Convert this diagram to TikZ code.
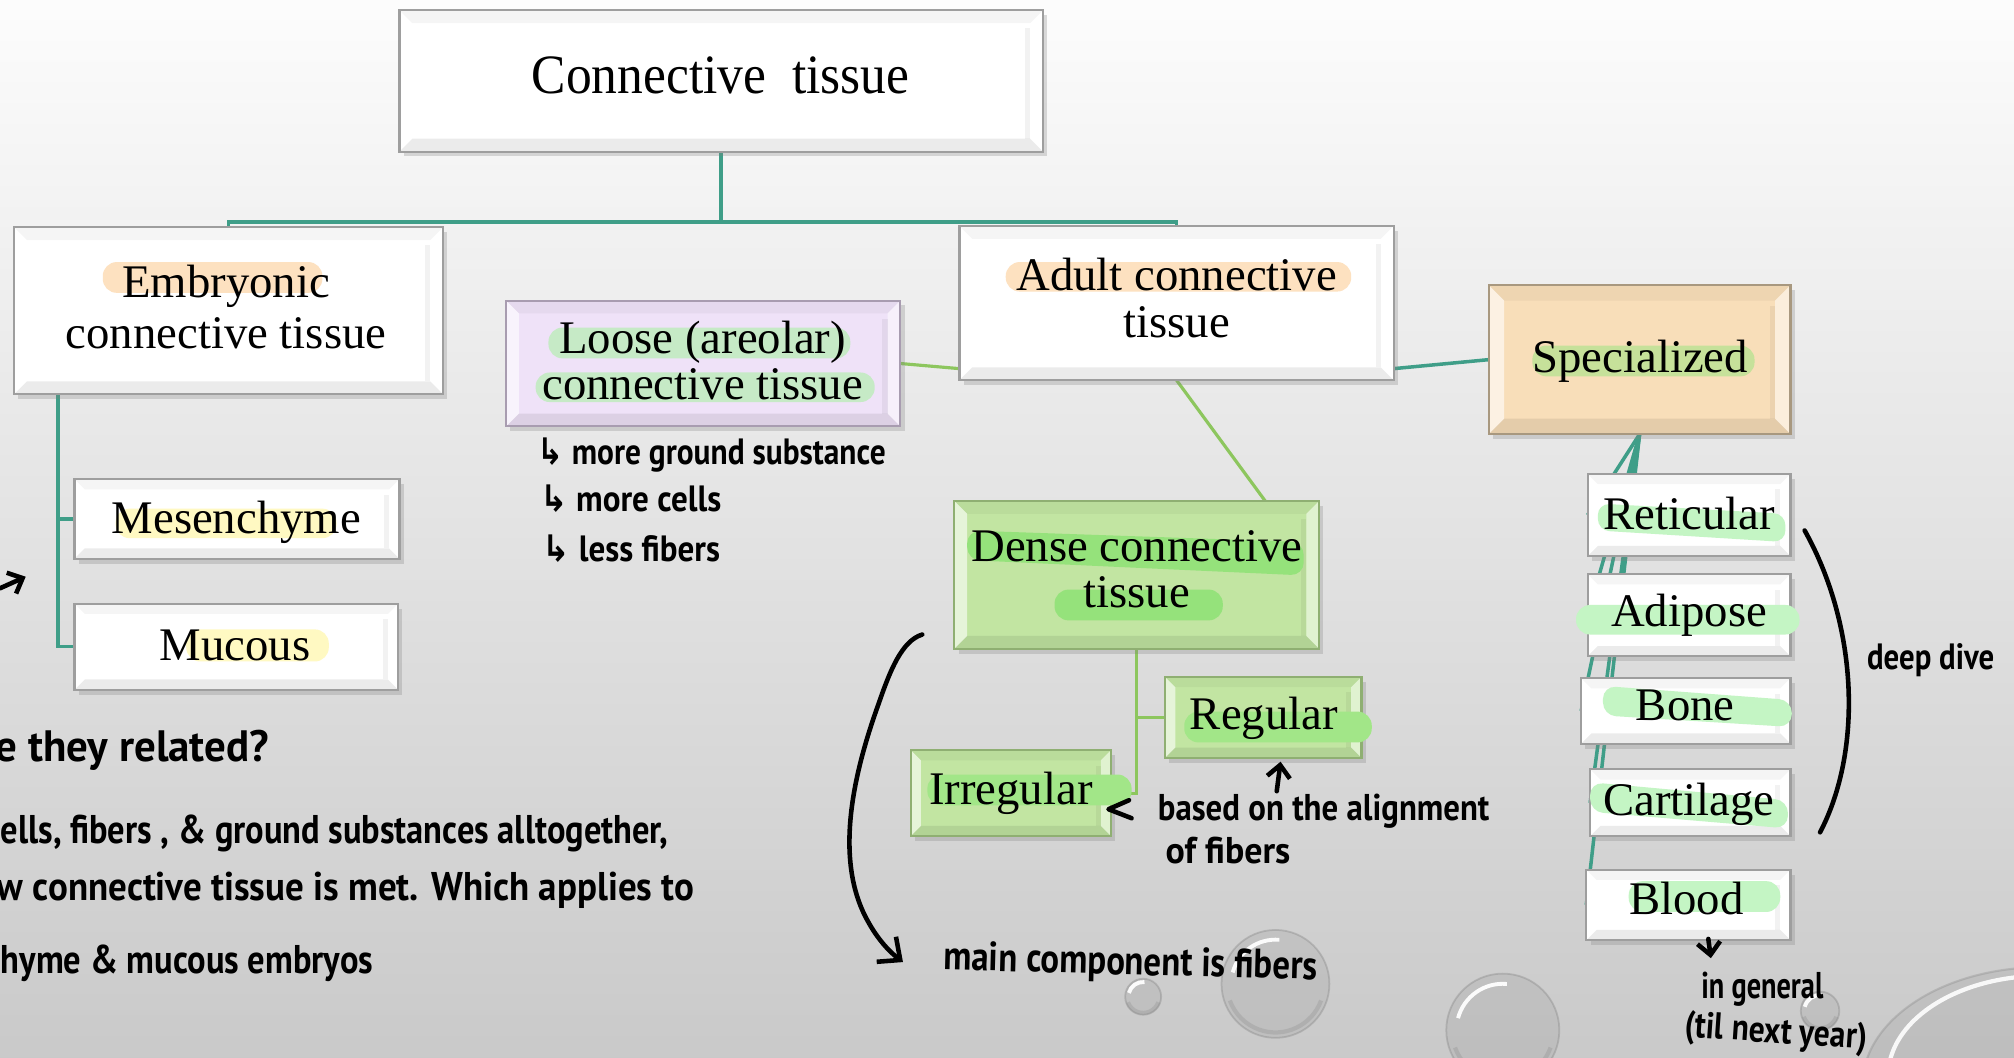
\documentclass[tikz,border=0pt]{standalone}
\usepackage{fontspec}
\setmainfont{Liberation Serif}
\newfontfamily\handfont{PT Sans}
\newfontfamily\symfont{DejaVu Sans}
\usepackage{graphicx}
\usetikzlibrary{fit,calc,shadows,arrows.meta}
\pgfdeclarelayer{back}
\pgfdeclarelayer{bg}
\pgfsetlayers{back,bg,main}
\newlength\pxu
\setlength\pxu{0.012844cm}
\newcommand\hwline[2]{\resizebox{#1\pxu}{\height}{\handfont\bfseries #2}}
\definecolor{tealcol}{HTML}{3F9E88}
\definecolor{greencol}{HTML}{8DC65E}
\definecolor{densefill}{HTML}{C2E5A2}
\definecolor{denseedge}{HTML}{8FAF72}
\definecolor{loosefill}{HTML}{EFE2F8}
\definecolor{looseedge}{HTML}{A89CB0}
\definecolor{specfill}{HTML}{F8DEB9}
\definecolor{specedge}{HTML}{A8987F}
\definecolor{peach}{HTML}{FDE1C0}
\definecolor{hlgreen}{HTML}{C6EAC6}
\definecolor{hlspec}{HTML}{C6E19A}
\definecolor{hldense}{HTML}{95E27B}
\definecolor{hlyellow}{HTML}{FFF9C2}
\definecolor{hlmint}{HTML}{C4F5C4}
\definecolor{hlreg}{HTML}{A2E688}
\tikzset{
  basebox/.style={rectangle, inner sep=0pt, outer sep=0pt, line width=0.6pt,
    drop shadow={opacity=0.28, shadow xshift=1.2pt, shadow yshift=-1.4pt}},
  bevel/.style={path picture={
    \coordinate (bvnw) at (path picture bounding box.north west);
    \coordinate (bvne) at (path picture bounding box.north east);
    \coordinate (bvsw) at (path picture bounding box.south west);
    \coordinate (bvse) at (path picture bounding box.south east);
    \fill[white,opacity=.6] (bvnw) -- ($(bvnw)+(#1,#1)$) -- ($(bvsw)+(#1,-#1)$) -- (bvsw) -- cycle;
    \fill[white,opacity=.5] (bvne) -- ($(bvne)+(-#1,#1)$) -- ($(bvse)+(-#1,-#1)$) -- (bvse) -- cycle;
    \fill[black,opacity=.05] ($(bvse)+(-#1-4,-#1)$) rectangle ($(bvne)+(-#1,#1+4)$);
    \fill[black,opacity=.04] (bvnw) -- (bvne) -- ($(bvne)+(-#1,#1)$) -- ($(bvnw)+(#1,#1)$) -- cycle;
    \fill[black,opacity=.08] (bvsw) -- (bvse) -- ($(bvse)+(-#1,-#1)$) -- ($(bvsw)+(#1,-#1)$) -- cycle;
  }},
  wbox/.style={basebox, fill=white, draw=black!38, bevel=#1}, wbox/.default=10,
  gbox/.style={basebox, fill=densefill, draw=denseedge, bevel=#1}, gbox/.default=10,
  lbox/.style={basebox, fill=loosefill, draw=looseedge, bevel=10},
  sbox/.style={basebox, fill=specfill, draw=specedge, bevel=12},
  lbl/.style={inner sep=0pt, align=center, font=\fontsize{13.3}{13.4}\selectfont},
  slbl/.style={inner sep=0pt, anchor=base, font=\fontsize{13.3}{13.4}\selectfont},
  hand/.style={inner sep=0pt, anchor=base west, font=\fontsize{#1}{#1}\selectfont}, hand/.default=11,
  hline/.style={line cap=round, line join=round, line width=1.3pt, black},
  tealline/.style={draw=tealcol, line width=1pt},
  greenline/.style={draw=greencol, line width=0.9pt},
  tipb/.style={-{Straight Barb[length=3.5pt,width=6.5pt]}}
}
\newcommand\pill[5]{\fill[#1, rounded corners=11\pxu] (#2,#3) rectangle (#4,#5);}
\newcommand\droplet[3]{%
  \fill[black, opacity=.06] (#1,#2) circle (#3);
  \draw[black!50, opacity=.35, line width=.5pt] (#1,#2) circle (#3);
  \draw[black!45, opacity=.3, line width=1.2pt] ($(#1,#2)+(20:0.9*#3)$) arc (20:160:0.9*#3);
  \draw[white, opacity=.95, line width=1.1pt] ($(#1,#2)+(195:0.82*#3)$) arc (195:275:0.82*#3);
}
\begin{document}
\begin{tikzpicture}[x=0.012844cm, y=-0.012844cm]
\useasboundingbox (0,0) rectangle (1568,823);
\begin{pgfonlayer}{back}
  \shade[top color=white!99!black, bottom color=black!21] (0,0) rectangle (1568,823);
  \begin{scope}
    \clip (0,0) rectangle (1568,823);
    \droplet{890}{776}{14}
    \droplet{993}{766}{42}
    \droplet{1170}{802}{44}
    \droplet{1417}{787}{15}
    \fill[black, opacity=.06] (1590,845) ellipse [x radius=140, y radius=92];
    \draw[black!50, opacity=.3, line width=.6pt] (1590,845) ellipse [x radius=140, y radius=92];
    \draw[white, opacity=.9, line width=1.2pt] ($(1590,845)+(190:120)$) arc [start angle=190, end angle=260, x radius=120, y radius=78];
  \end{scope}
\end{pgfonlayer}

% boxes
\node[wbox, fit={(311,8)(812,118)}] (ct) {};
\node[wbox, fit={(11,177)(345,307)}] (emb) {};
\node[lbox, fit={(394,234)(701,332)}] (loose) {};
\node[wbox, fit={(747,176)(1085,296)}] (adult) {};
\node[sbox, fit={(1159,222)(1394,338)}] (spec) {};
\node[wbox=8, fit={(58,373)(311,435)}] (mes) {};
\node[wbox=8, fit={(58,470)(310,537)}] (muc) {};
\node[gbox, fit={(743,390)(1027,505)}] (dense) {};
\node[gbox=8, fit={(907,527)(1060,590)}] (reg) {};
\node[gbox=8, fit={(709,584)(865,651)}] (irr) {};
\node[wbox=8, fit={(1236,369)(1394,433)}] (ret) {};
\node[wbox=8, fit={(1236,447)(1394,511)}] (adi) {};
\node[wbox=8, fit={(1231,528)(1394,579)}] (bone) {};
\node[wbox=8, fit={(1238,599)(1394,651)}] (cart) {};
\node[wbox=8, fit={(1235,677)(1394,732)}] (blood) {};

% connectors
\begin{pgfonlayer}{bg}
  \draw[tealline] (ct.south) -- ($(ct.south)+(0,55)$) coordinate (ctj) -| (emb.north);
  \draw[tealline] (ctj) -| (adult.north);
  \draw[tealline] ($(emb.south west)+(34,0)$) |- (mes.west);
  \draw[tealline] ($(emb.south west)+(34,0)$) |- (muc.west);
  \draw[greenline] (loose.east) -- ($(adult.south west)+(0,-9)$);
  \draw[greenline] (adult.south) -- ($(dense.north)+(100,0)$);
  \draw[tealline] ($(adult.south east)+(0,-9)$) -- (spec.west);
  \draw[greenline] (dense.south) |- (reg.west);
  \draw[greenline] (dense.south) |- (irr.east);
  \foreach \n in {ret,adi,bone,cart,blood} \draw[tealline] (spec.south) -- (\n.west);
\end{pgfonlayer}

% highlights
\pill{peach}{80}{204}{251}{228}
\pill{peach}{783}{204}{1052}{227}
\pill{hlgreen}{427}{255}{662}{279}
\pill{hlgreen}{417}{290}{681}{313}
\pill{hlspec}{1193}{269}{1366}{293}
\pill{hlyellow}{90}{396}{262}{419}
\pill{hlyellow}{145}{490}{256}{515}
\fill[hldense, rounded corners=10\pxu] (753,413) -- (1015,422) -- (1015,448) -- (753,436) -- cycle;
\pill{hldense}{821}{459}{952}{483}
\pill{hlreg}{922}{554}{1068}{578}
\pill{hlreg}{722}{603}{881}{627}
\fill[hlmint, rounded corners=9\pxu] (1244,392) -- (1390,400) -- (1390,422) -- (1244,413) -- cycle;
\pill{hlmint}{1227}{471}{1401}{494}
\fill[hlmint, rounded corners=10\pxu] (1248,534) -- (1395,545) -- (1395,566) -- (1248,557) -- cycle;
\fill[hlmint, rounded corners=10\pxu] (1238,609) -- (1392,623) -- (1392,645) -- (1238,632) -- cycle;
\pill{hlmint}{1268}{686}{1386}{710}

% box texts
\node[slbl] (ct-t) at (561,73) {\resizebox{294\pxu}{\height}{\fontsize{15.8}{17}\selectfont Connective\ \ tissue}};
\node[lbl, font=\fontsize{13.3}{14.3}\selectfont] (emb-t) at (176,239) {Embryonic\\connective tissue};
\node[lbl, font=\fontsize{13.3}{13.2}\selectfont] (loose-t) at (547,280.5) {Loose (areolar)\\connective tissue};
\node[lbl, font=\fontsize{13.3}{13.5}\selectfont] (adult-t) at (916,232) {Adult connective\\tissue};
\node[lbl, font=\fontsize{13.3}{13.2}\selectfont] (dense-t) at (885,443) {Dense connective\\tissue};
\node[slbl] (spec-t) at (1277,290) {Specialized};
\node[slbl] (mes-t) at (184,415) {Mesenchyme};
\node[slbl] (muc-t) at (183,514) {Mucous};
\node[slbl] (reg-t) at (984,568) {Regular};
\node[slbl] (irr-t) at (787,626) {Irregular};
\node[slbl] (ret-t) at (1315,412) {Reticular};
\node[slbl] (adi-t) at (1315,488) {Adipose};
\node[slbl] (bone-t) at (1312,561) {Bone};
\node[slbl] (cart-t) at (1315,635) {Cartilage};
\node[slbl] (blood-t) at (1313,712) {Blood};

% handwritten notes
\node[hand=12.5] (q1) at (-4,593) {\hwline{213}{e they related?}};
\node[hand=11.4] (q2) at (0,657) {\hwline{520}{ells, fibers , \& ground substances alltogether,}};
\node[hand=11.4] (q3) at (-3,701) {\hwline{543}{w connective tissue is met. Which applies to}};
\node[hand=11.4] (q4) at (0,758) {\hwline{290}{hyme \& mucous embryos}};

\node[hand=10.4] (n1) at (418,362) {\hwline{271}{{\symfont ↳} more ground substance}};
\node[hand=10.4] (n2) at (420,398) {\hwline{141}{{\symfont ↳} more cells}};
\node[hand=10.4] (n3) at (422,437) {\hwline{138}{{\symfont ↳} less fibers}};

\node[hand=10.6] (b1) at (901,639) {\hwline{258}{based on the alignment}};
\node[hand=10.6] (b2) at (907,672) {\hwline{97}{of fibers}};
\node[hand=11.6, rotate=-1.5] (mc) at (734,755) {\hwline{291}{main component is fibers}};
\node[hand=10.4] (dd) at (1453,521) {\hwline{99}{deep dive}};
\node[hand=10.6] (ig) at (1324,777) {\hwline{95}{in general}};
\node[hand=10.6, rotate=-4] (tn) at (1311,807) {\hwline{142}{(til next year)}};

% handwritten strokes
\coordinate (arrL) at (20,449);
\draw[hline, tipb] (0,458) -- (arrL);
\coordinate (bigtop) at (718,494);
\coordinate (bigend) at (703,749);
\draw[hline, -{Straight Barb[length=5pt,width=9pt]}] (bigtop) .. controls (702,499) and (693,522) .. (684,548)
   .. controls (666,598) and (650,662) .. (672,710) .. controls (680,727) and (690,739) .. (bigend);
\draw[hline] (879,623) -- (863,630) -- (881,637);
\coordinate (upend) at (997,593);
\draw[hline, tipb] (994,616) -- (upend);
\coordinate (brtop) at (1405,413);
\coordinate (brbot) at (1417,648);
\draw[hline] (brtop) .. controls (1447,488) and (1450,585) .. (brbot);
\coordinate (bldend) at (1332,746);
\draw[hline, tipb] (1330,731) -- (bldend);
\end{tikzpicture}
\end{document}
